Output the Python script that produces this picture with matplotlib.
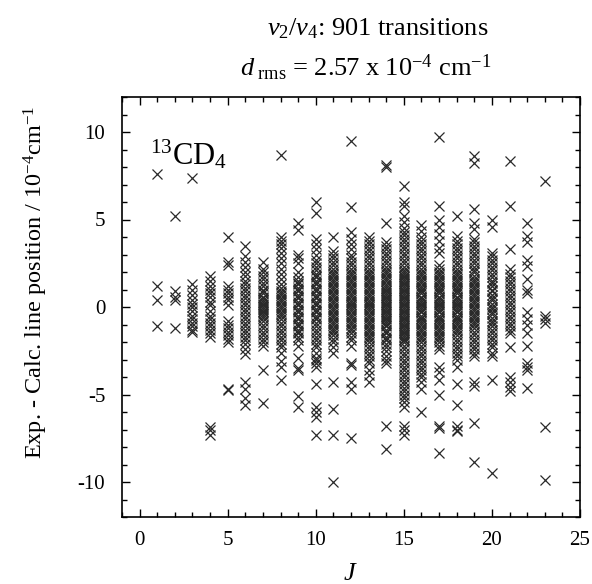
import matplotlib
matplotlib.use("Agg")
import matplotlib.pyplot as plt
from matplotlib.ticker import MultipleLocator

plt.rcParams['font.family'] = ['Liberation Serif', 'DejaVu Serif']
plt.rcParams['mathtext.fontset'] = 'custom'
plt.rcParams['mathtext.rm'] = 'Liberation Serif'
plt.rcParams['mathtext.it'] = 'Liberation Serif:italic'
plt.rcParams['axes.unicode_minus'] = False

# Residuals (10^-4 cm^-1), per lower-state J
J01 = [7.6, 1.2, 0.4, -1.1]
J02 = [5.2, 0.9, 0.6, 0.4, -1.2]
J03 = [7.4, 1.3, 1.0, 0.7, 0.4, 0.2, 0.0, -0.2, -0.5, -0.7, -0.9, -1.1, -1.3, -1.45]
J04 = [1.8, 1.5, 1.2, 1.0, 0.8, 0.6, 0.3, 0.1, -0.2, -0.5, -0.7, -0.9, -1.1, -1.3, -1.5, -1.7, -6.85, -7.0, -7.3]
J05 = [4.0, 2.6, 2.4, 1.2, 1.0, 0.8, 0.6, 0.4, 0.1, -0.8, -1.0, -1.2, -1.4, -1.6, -1.8, -2.0, -4.7, -4.75]
J06 = [3.5, 2.9, 2.6, 2.3, 2.0, 1.8, 1.5, 1.3, 1.1, 0.9, 0.7, 0.5, 0.3, 0.1, -0.1, -0.3, -0.5, -0.7, -0.9,
       -1.1, -1.3, -1.5, -1.7, -1.9, -2.1, -2.4, -2.7, -4.3, -4.7, -5.2, -5.6]
J07 = [2.6, 2.2, 2.0, 1.8, 1.6, 1.4, 1.2, 1.0, 0.9, 0.8, 0.6, 0.5, 0.4, 0.3, 0.2, 0.1, 0.0, -0.1, -0.2, -0.3,
       -0.4, -0.5, -0.6, -0.8, -1.0, -1.2, -1.4, -1.6, -1.8, -2.0, -2.2, -3.6, -5.5]
J08 = [8.7, 4.0, 3.8, 3.6, 3.4, 3.1, 2.8, 2.5, 2.2, 1.9, 1.6, 1.3, 1.1, 0.9, 0.8, 0.7, 0.5, 0.4, 0.3, 0.1, 0.0,
       -0.1, -0.3, -0.4, -0.5, -0.7, -0.9, -1.1, -1.3, -1.5, -1.7, -1.9, -2.1, -2.3, -2.6, -3.1, -3.4, -4.15]
J09 = [4.8, 4.4, 3.0, 2.8, 2.5, 2.0, 1.7, 1.5, 1.4, 1.3, 1.1, 1.0, 0.9, 0.7, 0.6, 0.5, 0.3, 0.2, 0.1, -0.1,
       -0.2, -0.3, -0.5, -0.6, -0.7, -0.9, -1.0, -1.1, -1.3, -1.4, -1.5, -1.7, -1.9, -2.2, -2.9, -3.5, -3.6,
       -5.1, -5.7]
J10 = [6.0, 5.4, 3.9, 3.6, 3.3, 3.0, 2.7, 2.5, 2.3, 2.1, 1.9, 1.8, 1.7, 1.5, 1.4, 1.3, 1.1, 1.0, 0.9, 0.7,
       0.6, 0.5, 0.3, 0.2, 0.1, -0.1, -0.2, -0.3, -0.5, -0.6, -0.7, -0.9, -1.1, -1.3, -1.5, -1.7, -1.9, -2.1,
       -2.3, -2.6, -2.9, -3.0, -3.2, -3.4, -4.4, -5.7, -6.0, -6.3, -7.3]
J11 = [4.0, 3.2, 3.0, 2.8, 2.6, 2.4, 2.2, 2.0, 1.9, 1.8, 1.6, 1.5, 1.4, 1.2, 1.1, 1.0, 0.8, 0.7, 0.6, 0.4,
       0.3, 0.2, 0.0, -0.1, -0.2, -0.4, -0.5, -0.6, -0.8, -0.9, -1.0, -1.2, -1.3, -1.4, -1.6, -1.8, -2.0,
       -2.3, -2.6, -4.3, -5.8, -7.3, -10.0]
J12 = [9.5, 5.7, 4.3, 3.9, 3.6, 3.3, 3.0, 2.8, 2.6, 2.4, 2.2, 2.0, 1.9, 1.8, 1.6, 1.5, 1.4, 1.2, 1.1, 1.0,
       0.8, 0.7, 0.6, 0.4, 0.3, 0.2, 0.1, 0.0, -0.1, -0.2, -0.4, -0.5, -0.6, -0.8, -0.9, -1.0, -1.2, -1.3,
       -1.5, -1.7, -1.9, -2.2, -3.2, -3.3, -4.3, -4.7, -7.5]
J13 = [4.0, 3.8, 3.6, 3.4, 3.2, 3.0, 2.8, 2.6, 2.4, 2.2, 2.0, 1.9, 1.8, 1.6, 1.5, 1.4, 1.2, 1.1, 1.0, 0.8,
       0.7, 0.6, 0.4, 0.3, 0.2, 0.1, 0.0, -0.1, -0.2, -0.4, -0.5, -0.6, -0.8, -0.9, -1.0, -1.2, -1.3, -1.4,
       -1.6, -1.7, -1.8, -2.0, -2.2, -2.4, -2.6, -2.8, -3.0, -3.2, -3.6, -3.9, -4.3]
J14 = [8.1, 8.0, 4.8, 3.7, 3.5, 3.3, 3.1, 2.9, 2.7, 2.5, 2.3, 2.1, 2.0, 1.9, 1.7, 1.6, 1.5, 1.3, 1.2, 1.1,
       1.0, 0.9, 0.8, 0.7, 0.6, 0.5, 0.4, 0.3, 0.2, 0.1, 0.0, -0.1, -0.2, -0.3, -0.4, -0.5, -0.6, -0.7, -0.8,
       -0.9, -1.0, -1.1, -1.3, -1.4, -1.5, -1.7, -1.8, -1.9, -2.1, -2.3, -2.5, -2.8, -3.0, -3.2, -6.8, -8.1]
J15 = [6.9, 6.0, 5.8, 5.2, 4.85, 4.5, 4.3, 4.1, 3.9, 3.7, 3.5, 3.3, 3.1, 2.9, 2.7, 2.5, 2.3, 2.1, 2.0, 1.9,
       1.8, 1.7, 1.6, 1.5, 1.4, 1.3, 1.2, 1.1, 1.0, 0.9, 0.8, 0.7, 0.6, 0.5, 0.4, 0.3, 0.2, 0.1, 0.0, -0.1,
       -0.2, -0.3, -0.4, -0.5, -0.6, -0.7, -0.8, -0.9, -1.0, -1.1, -1.2, -1.3, -1.4, -1.5, -1.6, -1.7, -1.8,
       -1.9, -2.0, -2.2, -2.4, -2.6, -2.8, -3.0, -3.2, -3.4, -3.6, -3.8, -4.0, -4.2, -4.4, -4.6, -4.8, -5.0,
       -5.2, -5.4, -5.7, -6.8, -7.0, -7.3]
J16 = [4.7, 4.35, 4.0, 3.8, 3.6, 3.4, 3.2, 3.0, 2.8, 2.6, 2.4, 2.2, 2.0, 1.9, 1.8, 1.6, 1.5, 1.4, 1.2, 1.1,
       1.0, 0.9, 0.8, 0.6, 0.5, 0.4, 0.3, 0.2, 0.1, 0.0, -0.1, -0.2, -0.3, -0.5, -0.6, -0.7, -0.8, -0.9, -1.0,
       -1.2, -1.3, -1.4, -1.6, -1.7, -1.8, -2.0, -2.2, -2.4, -2.6, -2.8, -3.0, -3.2, -3.4, -3.6, -3.8, -4.0,
       -4.3, -4.7, -6.0]
J17 = [9.7, 5.8, 5.0, 4.6, 4.2, 3.8, 3.4, 3.1, 2.4, 2.2, 2.0, 1.9, 1.8, 1.6, 1.5, 1.4, 1.2, 1.1, 1.0, 0.9,
       0.8, 0.6, 0.5, 0.4, 0.3, 0.2, 0.1, 0.0, -0.1, -0.2, -0.3, -0.5, -0.6, -0.7, -0.8, -0.9, -1.0, -1.2,
       -1.3, -1.4, -1.6, -1.7, -1.8, -2.0, -2.2, -2.4, -3.4, -3.7, -4.15, -5.0, -6.8, -6.9, -8.35]
J18 = [5.2, 4.05, 3.8, 3.6, 3.4, 3.2, 3.0, 2.8, 2.6, 2.4, 2.2, 2.0, 1.9, 1.8, 1.6, 1.5, 1.4, 1.2, 1.1, 1.0,
       0.9, 0.8, 0.6, 0.5, 0.4, 0.3, 0.2, 0.1, 0.0, -0.1, -0.2, -0.3, -0.5, -0.6, -0.7, -0.8, -0.9, -1.0,
       -1.2, -1.3, -1.4, -1.6, -1.8, -2.0, -2.2, -2.4, -2.6, -2.8, -3.0, -3.4, -4.4, -5.6, -6.8, -7.0, -7.1]
J19 = [8.65, 8.25, 5.6, 4.8, 4.45, 3.9, 3.7, 3.5, 3.3, 3.1, 2.9, 2.7, 2.5, 2.3, 2.1, 2.0, 1.8, 1.6, 1.5, 1.4,
       1.2, 1.1, 1.0, 0.8, 0.7, 0.6, 0.4, 0.3, 0.2, 0.0, -0.1, -0.2, -0.4, -0.5, -0.6, -0.8, -0.9, -1.0,
       -1.2, -1.4, -1.6, -1.8, -2.0, -2.2, -2.4, -2.6, -2.8, -4.3, -4.5, -6.6, -8.85]
J20 = [5.0, 4.55, 3.1, 2.9, 2.7, 2.5, 2.3, 2.1, 1.9, 1.7, 1.5, 1.4, 1.2, 1.0, 0.9, 0.7, 0.5, 0.4, 0.2, 0.0,
       -0.1, -0.3, -0.4, -0.6, -0.8, -0.9, -1.1, -1.3, -1.5, -1.7, -1.9, -2.1, -2.3, -2.6, -2.8, -4.15, -9.5]
J21 = [8.35, 5.8, 3.3, 2.15, 1.9, 1.7, 1.5, 1.3, 1.1, 0.9, 0.7, 0.5, 0.3, 0.1, -0.1, -0.3, -0.5, -0.7, -0.9,
       -1.1, -1.3, -1.5, -2.3, -4.0, -4.3, -4.55, -4.8]
J22 = [4.8, 4.05, 3.7, 2.7, 2.35, 1.6, 1.0, 0.8, -0.3, -0.7, -1.0, -1.5, -2.25, -3.2, -3.4, -3.6, -4.65]
J23 = [7.2, -0.5, -0.7, -0.9, -6.85, -9.9]

residuals = [J01, J02, J03, J04, J05, J06, J07, J08, J09, J10, J11, J12,
             J13, J14, J15, J16, J17, J18, J19, J20, J21, J22, J23]
j_values = list(range(1, 24))

xs, ys = [], []
for j, vals in zip(j_values, residuals):
    xs.extend([j] * len(vals))
    ys.extend(vals)

fig = plt.figure(figsize=(5.92, 5.84), dpi=100)
ax = fig.add_axes([122/592, 1 - 517/584, (580-122)/592, (517-97)/584])

ax.plot(xs, ys, linestyle='none', marker='x', markersize=7.5, markeredgewidth=0.9,
        color='#2a2a2a')

ax.set_xlim(-1, 25)
ax.set_ylim(-12, 12)
ax.xaxis.set_major_locator(MultipleLocator(5))
ax.xaxis.set_minor_locator(MultipleLocator(1))
ax.yaxis.set_major_locator(MultipleLocator(5))
ax.yaxis.set_minor_locator(MultipleLocator(1))
ax.tick_params(which='both', direction='in', top=True, right=True, labelsize=15, width=1.0)
ax.tick_params(which='major', length=6)
ax.tick_params(which='minor', length=3.5)
ax.tick_params(axis='x', which='major', pad=10)
ax.tick_params(axis='y', which='major', pad=12)
for s in ax.spines.values():
    s.set_linewidth(1.2)

ax.text(0.57, 8.17, r'$^{13}$CD$_4$', fontsize=22, ha='left', va='baseline')

fig.text(378/592, 1 - 29/584, r'$v_2$/$v_4$: 901 transitions', fontsize=19, ha='center', va='center')
fig.text(366/592, 1 - 68/584, r'$d_{\ \mathrm{rms}}$ = 2.57 x 10$^{-4}$ cm$^{-1}$', fontsize=19,
         ha='center', va='center')

fig.text(36/592, 1 - 282/584, r'Exp. - Calc. line position / 10$^{-4}$cm$^{-1}$', fontsize=17.5,
         rotation=90, ha='center', va='center')
fig.text(350/592, 1 - 574/584, r'$J$', fontsize=19, ha='center', va='center')

fig.savefig('out.png', dpi=100)
